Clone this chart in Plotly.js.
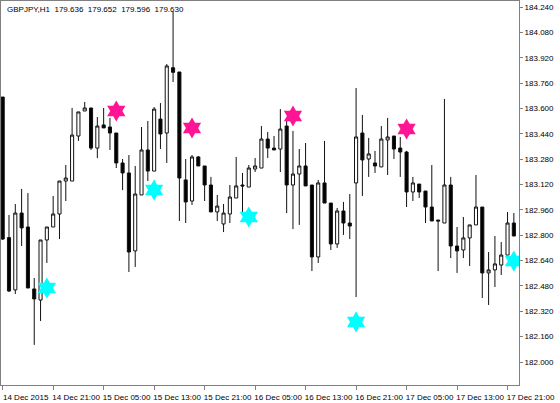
<!DOCTYPE html>
<html>
<head>
<meta charset="utf-8">
<script src="https://cdn.plot.ly/plotly-3.0.1.min.js"></script>
<style>html,body{margin:0;padding:0;background:#fff;}#chart{width:560px;height:403px;}</style>
</head>
<body>
<div id="chart"></div>
<script>
const times = [
"2015-12-14 13:00","2015-12-14 14:00","2015-12-14 15:00","2015-12-14 16:00","2015-12-14 17:00","2015-12-14 18:00","2015-12-14 19:00","2015-12-14 20:00","2015-12-14 21:00","2015-12-14 22:00",
"2015-12-14 23:00","2015-12-15 00:00","2015-12-15 01:00","2015-12-15 02:00","2015-12-15 03:00","2015-12-15 04:00","2015-12-15 05:00","2015-12-15 06:00","2015-12-15 07:00","2015-12-15 08:00",
"2015-12-15 09:00","2015-12-15 10:00","2015-12-15 11:00","2015-12-15 12:00","2015-12-15 13:00","2015-12-15 14:00","2015-12-15 15:00","2015-12-15 16:00","2015-12-15 17:00","2015-12-15 18:00",
"2015-12-15 19:00","2015-12-15 20:00","2015-12-15 21:00","2015-12-15 22:00","2015-12-15 23:00","2015-12-16 00:00","2015-12-16 01:00","2015-12-16 02:00","2015-12-16 03:00","2015-12-16 04:00",
"2015-12-16 05:00","2015-12-16 06:00","2015-12-16 07:00","2015-12-16 08:00","2015-12-16 09:00","2015-12-16 10:00","2015-12-16 11:00","2015-12-16 12:00","2015-12-16 13:00","2015-12-16 14:00",
"2015-12-16 15:00","2015-12-16 16:00","2015-12-16 17:00","2015-12-16 18:00","2015-12-16 19:00","2015-12-16 20:00","2015-12-16 21:00","2015-12-16 22:00","2015-12-16 23:00","2015-12-17 00:00",
"2015-12-17 01:00","2015-12-17 02:00","2015-12-17 03:00","2015-12-17 04:00","2015-12-17 05:00","2015-12-17 06:00","2015-12-17 07:00","2015-12-17 08:00","2015-12-17 09:00","2015-12-17 10:00",
"2015-12-17 11:00","2015-12-17 12:00","2015-12-17 13:00","2015-12-17 14:00","2015-12-17 15:00","2015-12-17 16:00","2015-12-17 17:00","2015-12-17 18:00","2015-12-17 19:00","2015-12-17 20:00",
"2015-12-17 21:00","2015-12-17 22:00"];

const opens = [183.672,182.785,182.455,182.940,182.852,182.461,182.391,182.770,182.852,182.934,
183.142,183.142,183.426,183.584,183.603,183.350,183.496,183.483,183.445,183.256,
183.193,182.701,183.054,183.338,183.205,183.533,183.445,183.857,183.830,183.149,
183.016,183.294,183.237,183.117,182.947,182.871,182.934,183.035,183.117,183.104,
183.218,183.224,183.407,183.350,183.344,183.489,183.117,183.186,183.237,183.117,
182.663,183.130,183.003,182.745,182.953,182.877,183.130,183.445,183.281,183.256,
183.231,183.401,183.426,183.350,183.325,183.073,183.123,183.079,182.978,182.896,
182.877,183.117,182.732,182.707,182.783,182.865,182.978,182.562,182.581,182.612,
182.675,182.877];

const highs = [183.672,182.928,182.997,183.092,183.066,182.530,182.770,182.852,183.048,183.142,
183.243,183.603,183.578,183.641,183.603,183.546,183.603,183.540,183.445,183.281,
183.306,183.237,183.483,183.521,183.609,183.634,183.880,184.210,183.830,183.281,
183.306,183.300,183.237,183.168,183.054,182.997,183.117,183.294,183.193,183.243,
183.287,183.489,183.451,183.426,183.596,183.533,183.458,183.344,183.382,183.117,
183.149,183.395,183.003,182.972,183.010,183.060,183.729,183.559,183.414,183.332,
183.489,183.540,183.426,183.420,183.332,183.168,183.123,183.079,183.243,182.896,
183.660,183.168,182.852,182.915,182.865,183.180,182.978,182.694,182.795,182.757,
182.947,182.940];

const lows = [182.770,182.442,182.429,182.732,182.467,182.108,182.259,182.625,182.852,182.776,
183.016,183.142,183.395,183.584,183.338,183.287,183.477,183.338,183.224,183.085,
182.568,182.600,183.054,183.142,183.205,183.344,183.256,183.767,182.890,182.877,
182.991,183.237,183.016,182.947,182.890,182.820,182.877,183.035,182.940,183.104,
183.199,183.224,183.287,183.338,183.199,182.940,182.839,182.865,183.111,182.574,
182.625,183.003,182.707,182.720,182.802,182.776,182.410,183.048,183.168,183.193,
183.231,183.180,183.281,183.168,182.978,183.016,183.035,182.877,182.890,182.574,
182.877,182.656,182.562,182.656,182.606,182.865,182.404,182.360,182.473,182.549,
182.675,182.795];

const closes = [182.776,182.448,182.940,182.846,182.467,182.398,182.770,182.852,182.934,183.142,
183.161,183.432,183.578,183.603,183.350,183.489,183.477,183.445,183.256,183.193,
182.694,183.060,183.338,183.205,183.596,183.439,183.868,183.828,183.161,183.010,
183.294,183.237,183.117,182.947,182.984,182.940,183.041,183.111,183.111,183.224,
183.237,183.407,183.350,183.338,183.470,183.117,183.186,183.237,183.111,182.663,
183.130,183.003,182.745,182.953,182.877,182.858,183.420,183.275,183.313,183.237,
183.407,183.420,183.344,183.325,183.073,183.130,183.073,182.978,182.890,182.890,
183.117,182.732,182.701,182.783,182.865,182.978,182.562,182.581,182.619,182.675,
182.877,182.795];

// signal stars
const upStarTimes = ["2015-12-15 07:00","2015-12-15 19:00","2015-12-16 11:00","2015-12-17 05:00"];
const upStarPrices = [183.584,183.477,183.552,183.470];
const downStarTimes = ["2015-12-14 20:00","2015-12-15 13:00","2015-12-16 04:00","2015-12-16 21:00","2015-12-17 22:00"];
const downStarPrices = [182.467,183.085,182.915,182.253,182.637];

const tickTimes = ["2015-12-14 13:00","2015-12-14 21:00","2015-12-15 05:00","2015-12-15 13:00","2015-12-15 21:00","2015-12-16 05:00","2015-12-16 13:00","2015-12-16 21:00","2015-12-17 05:00","2015-12-17 13:00","2015-12-17 21:00"];
const tickLabels = ["14 Dec 2015","14 Dec 21:00","15 Dec 05:00","15 Dec 13:00","15 Dec 21:00","16 Dec 05:00","16 Dec 13:00","16 Dec 21:00","17 Dec 05:00","17 Dec 13:00","17 Dec 21:00"];

const headerText = "GBPJPY,H1&nbsp;&nbsp;179.636&nbsp;&nbsp;179.652&nbsp;&nbsp;179.596&nbsp;&nbsp;179.630";

const fontFam = "Liberation Sans, Arial, sans-serif";

const traces = [
  {
    type: "candlestick",
    x: times, open: opens, high: highs, low: lows, close: closes,
    increasing: {line: {color: "#111", width: 1}, fillcolor: "#fff"},
    decreasing: {line: {color: "#111", width: 1}, fillcolor: "#000"},
    whiskerwidth: 0,
    hoverinfo: "skip",
    showlegend: false
  },
  {
    type: "scatter", mode: "markers",
    x: upStarTimes, y: upStarPrices,
    marker: {symbol: "hexagram", size: 16, color: "#FF1493", line: {width: 0}},
    showlegend: false, hoverinfo: "skip"
  },
  {
    type: "scatter", mode: "markers",
    x: downStarTimes, y: downStarPrices,
    marker: {symbol: "hexagram", size: 16, color: "#00FFFF", line: {width: 0}},
    showlegend: false, hoverinfo: "skip"
  }
];

const layout = {
  width: 560, height: 403,
  margin: {l: 1, r: 41, t: 1, b: 18, pad: 0},
  paper_bgcolor: "#fff", plot_bgcolor: "#fff",
  font: {family: fontFam, size: 8, color: "#000"},
  xaxis: {
    type: "date",
    range: ["2015-12-14 12:44", "2015-12-17 22:49"],
    rangeslider: {visible: false},
    showgrid: false, zeroline: false,
    showline: true, linecolor: "#808080", linewidth: 1, mirror: true,
    tickmode: "array", tickvals: tickTimes, ticktext: tickLabels,
    ticks: "outside", ticklen: 4, tickcolor: "#808080", tickwidth: 1,
    tickangle: 0, ticklabelshift: 23, ticklabelstandoff: 0,
    tickfont: {family: fontFam, size: 8, color: "#000"},
    fixedrange: true
  },
  yaxis: {
    side: "right",
    range: [181.855, 184.278],
    showgrid: false, zeroline: false,
    showline: true, linecolor: "#808080", linewidth: 1, mirror: true,
    tick0: 182.0, dtick: 0.16, tickformat: ".3f",
    ticks: "outside", ticklen: 3, tickcolor: "#808080", tickwidth: 1,
    tickfont: {family: fontFam, size: 8, color: "#000"},
    fixedrange: true
  },
  annotations: [{
    xref: "paper", yref: "paper", x: 0, y: 1,
    xanchor: "left", yanchor: "top", xshift: 4, yshift: -2,
    text: headerText, showarrow: false,
    font: {family: fontFam, size: 8, color: "#000"}
  }]
};

Plotly.newPlot("chart", traces, layout, {staticPlot: true, displayModeBar: false});
</script>
</body>
</html>
